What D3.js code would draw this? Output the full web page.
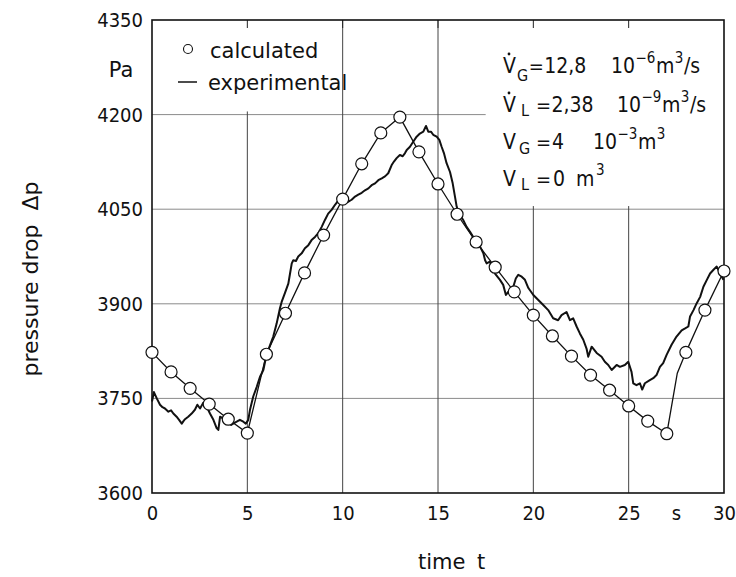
<!DOCTYPE html>
<html>
<head>
<meta charset="utf-8">
<script src="https://cdn.jsdelivr.net/npm/d3@7"></script>
<style>
  body { margin: 0; background: #fff; }
  text { font-family: "DejaVu Sans", sans-serif; fill: #111; }
  .cond { font-family: "DejaVu Sans Condensed", "DejaVu Sans", sans-serif; }
</style>
</head>
<body>
<script>
//Chart data

// calculated points, one per second
var calcTime = [0, 1, 2, 3, 4, 5, 6, 7, 8, 9, 10, 11, 12, 13, 14, 15, 16, 17, 18, 19, 20, 21, 22, 23, 24, 25, 26, 27, 28, 29, 30];
var calcDrop = [3823, 3792, 3766, 3741, 3717, 3695, 3820, 3885, 3949, 4009, 4066, 4122, 4171, 4196, 4141, 4090, 4042, 3998, 3958, 3919, 3882, 3849, 3817, 3787, 3763, 3738, 3714, 3694, 3823, 3890, 3952];
// the calculated line bends once between 27 and 28 s
var calcBendTime = [27.55];
var calcBendDrop = [3790];

// experimental trace
var expTime = [0.00, 0.10, 0.25, 0.42, 0.55, 0.68, 0.86, 1.00, 1.12, 1.29, 1.42, 1.56, 1.65, 1.73, 1.90, 2.08, 2.25, 2.38, 2.52, 2.69, 2.87, 3.04, 3.22, 3.39, 3.48, 3.57, 3.74, 3.88, 4.00, 4.15, 4.26, 4.44, 4.61, 4.79, 4.92, 5.05,
  5.14, 5.31, 5.49, 5.66, 5.84, 5.93, 6.10, 6.36, 6.54, 6.71, 6.80, 6.97, 7.15, 7.24, 7.33, 7.41, 7.55, 7.67, 7.85, 8.02, 8.20, 8.37, 8.55, 8.72, 8.90, 9.07, 9.24, 9.42, 9.60, 9.86,
  10.12, 10.30, 10.47, 10.65, 10.82, 11.00, 11.17, 11.35, 11.52, 11.70, 11.87, 12.05, 12.22, 12.39, 12.57, 12.70, 12.83, 13.00, 13.15, 13.27, 13.36, 13.53, 13.70, 13.88, 14.05, 14.23, 14.37, 14.49, 14.63, 14.75, 14.93,
  15.07, 15.19, 15.31, 15.45, 15.63, 15.77, 15.89, 15.98, 16.11, 16.32, 16.50, 16.68, 16.85, 17.02, 17.20, 17.38, 17.47, 17.55, 17.72, 17.99, 18.25, 18.42, 18.56, 18.77, 18.95, 19.08, 19.21, 19.39, 19.56, 19.74,
  20.00, 20.26, 20.52, 20.78, 21.04, 21.30, 21.48, 21.74, 21.92, 22.09, 22.27, 22.44, 22.62, 22.79, 22.88, 23.06, 23.32, 23.58, 23.75, 23.93, 24.11, 24.37, 24.54, 24.80, 24.98,
  25.15, 25.24, 25.41, 25.59, 25.71, 25.85, 26.11, 26.29, 26.46, 26.64, 26.81, 26.99, 27.25, 27.51, 27.78, 27.96, 28.13, 28.22, 28.40, 28.57, 28.75, 28.92, 29.10, 29.27, 29.45, 29.62, 29.80, 29.97];
var expDrop = [3745, 3760, 3750, 3740, 3736, 3734, 3729, 3731, 3726, 3721, 3716, 3710, 3714, 3717, 3721, 3726, 3732, 3740, 3734, 3743, 3737, 3726, 3716, 3703, 3700, 3721, 3718, 3710, 3713, 3708, 3710, 3713, 3716, 3713, 3710, 3716,
  3732, 3753, 3768, 3784, 3795, 3808, 3827, 3848, 3869, 3893, 3903, 3917, 3932, 3948, 3964, 3969, 3968, 3975, 3980, 3988, 3993, 4001, 4006, 4012, 4022, 4033, 4043, 4049, 4057, 4067,
  4070, 4062, 4065, 4070, 4073, 4076, 4080, 4083, 4088, 4091, 4096, 4099, 4102, 4107, 4120, 4126, 4131, 4136, 4134, 4139, 4144, 4149, 4157, 4165, 4170, 4173, 4182, 4173, 4173, 4168, 4165,
  4160, 4149, 4139, 4123, 4109, 4091, 4070, 4054, 4043, 4033, 4022, 4014, 4006, 3999, 3991, 3980, 3969, 3964, 3967, 3948, 3938, 3930, 3914, 3922, 3927, 3940, 3946, 3943, 3938, 3925,
  3914, 3906, 3898, 3890, 3877, 3874, 3882, 3887, 3874, 3877, 3864, 3853, 3843, 3829, 3816, 3832, 3822, 3816, 3808, 3803, 3795, 3803, 3800, 3803, 3808,
  3792, 3774, 3771, 3774, 3764, 3774, 3779, 3782, 3787, 3800, 3806, 3819, 3835, 3848, 3858, 3861, 3864, 3880, 3890, 3901, 3911, 3927, 3938, 3948, 3954, 3959, 3948, 3938];

var xTicks = [0, 5, 10, 15, 20, 25, 30];
var yTicks = [3600, 3750, 3900, 4050, 4200, 4350];
var xGrid = [5, 10, 15, 20, 25];
var yGrid = [3750, 3900, 4050, 4200];

//Layout
var width = 736, height = 577;
var margin = { top: 20, right: 12, bottom: 84, left: 152 };

var svg = d3.select("body")
  .append("svg")
  .attr("width", width)
  .attr("height", height);

var xScale = d3.scaleLinear()
  .domain([0, 30])
  .range([margin.left, width - margin.right]);
var yScale = d3.scaleLinear()
  .domain([3600, 4350])
  .range([height - margin.bottom, margin.top]);

var x0 = xScale(0), x1 = xScale(30), y0 = yScale(3600), y1 = yScale(4350);

//Grid
svg.append("g")
  .selectAll("line")
  .data(yGrid)
  .join("line")
  .attr("x1", x0).attr("x2", x1)
  .attr("y1", d => yScale(d)).attr("y2", d => yScale(d))
  .attr("stroke", "#8a8a8a")
  .attr("stroke-width", 1);

svg.append("g")
  .selectAll("line")
  .data(xGrid)
  .join("line")
  .attr("x1", d => xScale(d)).attr("x2", d => xScale(d))
  .attr("y1", y1).attr("y2", y0)
  .attr("stroke", "#444")
  .attr("stroke-width", 1);

// white panels behind the legend and the parameter block
svg.append("rect")
  .attr("x", x0).attr("y", y1)
  .attr("width", xScale(9.95) - x0)
  .attr("height", yScale(4205) - y1)
  .attr("fill", "#fff");
svg.append("rect")
  .attr("x", xScale(17.5)).attr("y", y1)
  .attr("width", x1 - xScale(17.5))
  .attr("height", yScale(4055) - y1)
  .attr("fill", "#fff");

// short ticks on the top edge
svg.append("g")
  .selectAll("line")
  .data(xGrid)
  .join("line")
  .attr("x1", d => xScale(d)).attr("x2", d => xScale(d))
  .attr("y1", y1).attr("y2", y1 + 8)
  .attr("stroke", "#222")
  .attr("stroke-width", 1);

//Frame
svg.append("rect")
  .attr("x", x0).attr("y", y1)
  .attr("width", x1 - x0).attr("height", y0 - y1)
  .attr("fill", "none")
  .attr("stroke", "#111")
  .attr("stroke-width", 1.6);

//Axes (labels only, the frame is drawn above)
var xAxis = d3.axisBottom(xScale).tickValues(xTicks).tickSize(0).tickPadding(13).tickFormat(d3.format("d"));
svg.append("g")
  .attr("transform", `translate(0,${y0})`)
  .call(xAxis)
  .call(g => g.select(".domain").remove())
  .call(g => g.selectAll("text").attr("class", "cond").attr("font-size", 20).attr("fill", "#111"));

var yAxis = d3.axisLeft(yScale).tickValues(yTicks).tickSize(0).tickPadding(9).tickFormat(d3.format("d"));
svg.append("g")
  .attr("transform", `translate(${x0},0)`)
  .call(yAxis)
  .call(g => g.select(".domain").remove())
  .call(g => g.selectAll("text").attr("class", "cond").attr("font-size", 20).attr("fill", "#111"));

// unit labels
svg.append("text")
  .attr("x", 121).attr("y", 77)
  .attr("text-anchor", "middle")
  .attr("font-size", 21)
  .text("Pa");
svg.append("text")
  .attr("class", "cond")
  .attr("x", xScale(27.5)).attr("y", 520)
  .attr("text-anchor", "middle")
  .attr("font-size", 20)
  .text("s");

// axis titles
svg.append("text")
  .attr("x", 418).attr("y", 569)
  .attr("font-size", 21)
  .text("time");
svg.append("text")
  .attr("x", 477).attr("y", 569)
  .attr("font-size", 21)
  .text("t");
svg.append("text")
  .attr("transform", "translate(38,279) rotate(-90)")
  .attr("text-anchor", "middle")
  .attr("font-size", 22)
  .attr("xml:space", "preserve")
  .style("white-space", "pre")
  .text("pressure drop  Δp");

//Series
var expData = expTime.map((t, i) => ({ t: t, p: expDrop[i] }));
var calcData = calcTime.map((t, i) => ({ t: t, p: calcDrop[i] }));
var calcLineData = calcData.concat(calcBendTime.map((t, i) => ({ t: t, p: calcBendDrop[i] })))
  .sort((a, b) => a.t - b.t);

var line = d3.line()
  .x(d => xScale(d.t))
  .y(d => yScale(d.p));

svg.append("path")
  .datum(calcLineData)
  .attr("d", line)
  .attr("fill", "none")
  .attr("stroke", "#111")
  .attr("stroke-width", 1.3);

svg.append("path")
  .datum(expData)
  .attr("d", line)
  .attr("fill", "none")
  .attr("stroke", "#111")
  .attr("stroke-width", 2)
  .attr("stroke-linejoin", "round");

svg.append("g")
  .selectAll("circle")
  .data(calcData)
  .join("circle")
  .attr("cx", d => xScale(d.t))
  .attr("cy", d => yScale(d.p))
  .attr("r", 6)
  .attr("fill", "#fff")
  .attr("stroke", "#111")
  .attr("stroke-width", 1.2);

//Legend
var legend = svg.append("g").attr("font-size", 21);
legend.append("circle")
  .attr("cx", 188).attr("cy", 49).attr("r", 4.5)
  .attr("fill", "#fff").attr("stroke", "#111").attr("stroke-width", 1.1);
legend.append("text").attr("x", 210).attr("y", 58).text("calculated");
legend.append("line")
  .attr("x1", 178).attr("x2", 197).attr("y1", 82).attr("y2", 82)
  .attr("stroke", "#111").attr("stroke-width", 1.5);
legend.append("text").attr("x", 208).attr("y", 90).text("experimental");

//Parameter block
// [text, wanted x, baseline shift, size]; a piece is pushed right if the one before is wider
var paramRows = [
  { y: 73, dot: true, parts: [["V", 503, 0, 21], ["G", 517, 8, 16], ["=", 527, 0, 20], ["12,8", 542, 0, 21], ["10", 611, 0, 21], ["−6", 628, -10, 15], ["m", 644, 0, 21], ["3", 662, -10, 15], ["/s", 669, 0, 21]] },
  { y: 112, dot: true, parts: [["V", 503, 0, 21], ["L", 521, 4, 16], ["=", 536, 0, 20], ["2,38", 548, 0, 21], ["10", 617, 0, 21], ["−9", 636, -10, 15], ["m", 656, 0, 21], ["3", 674, -10, 15], ["/s", 682, 0, 21]] },
  { y: 149, dot: false, parts: [["V", 503, 0, 21], ["G", 519, 5, 16], ["=", 536, 0, 20], ["4", 552, 0, 21], ["10", 593, 0, 21], ["−3", 613, -10, 15], ["m", 627, 0, 21], ["3", 643, -10, 15]] },
  { y: 186, dot: false, parts: [["V", 503, 0, 21], ["L", 521, 4, 16], ["=", 536, 0, 20], ["0", 553, 0, 21], ["m", 576, 0, 21], ["3", 596, -11, 15]] }
];
var params = svg.append("g");
paramRows.forEach(r => {
  var prevEnd = 0;
  r.parts.forEach(p => {
    var t = params.append("text")
      .attr("class", "cond")
      .attr("y", r.y + p[2])
      .attr("font-size", p[3])
      .text(p[0]);
    var x = Math.max(p[1], prevEnd + 0.5);
    t.attr("x", x);
    prevEnd = x + t.node().getComputedTextLength();
  });
  if (r.dot) {
    params.append("circle")
      .attr("cx", 509).attr("cy", r.y - 19).attr("r", 1.4)
      .attr("fill", "#111");
  }
});
</script>
</body>
</html>
